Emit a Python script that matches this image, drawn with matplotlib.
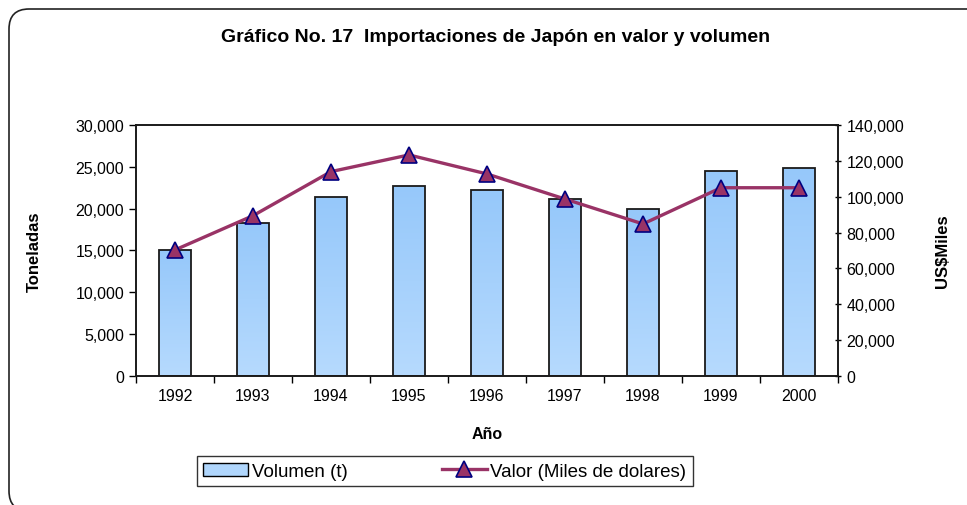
import numpy as np
import matplotlib
matplotlib.use('Agg')
import matplotlib.pyplot as plt
from matplotlib.patches import FancyBboxPatch, Rectangle
from matplotlib.colors import LinearSegmentedColormap
from matplotlib.ticker import FuncFormatter, MultipleLocator

plt.rcParams['font.family'] = ['Liberation Sans', 'DejaVu Sans']

years = ['1992', '1993', '1994', '1995', '1996', '1997', '1998', '1999', '2000']
volumen = [15100, 18300, 21350, 22750, 22200, 21150, 19900, 24550, 24900]
valor = [70300, 89400, 114000, 123300, 112700, 98700, 84800, 105000, 105000]

fig = plt.figure(figsize=(9.67, 5.06), dpi=100)
ax = fig.add_axes([0.1406, 0.255, 0.726, 0.496])
ax2 = ax.twinx()

# rounded outer border, runs past the right and bottom edges
fig.patches.append(FancyBboxPatch((0.09, -0.06), 9.8, 5.02,
                                  boxstyle='round,pad=0,rounding_size=0.2',
                                  transform=fig.dpi_scale_trans, fill=False,
                                  edgecolor='#222222', linewidth=1.2))

x = np.arange(len(years))
bar_w = 0.4
grad = LinearSegmentedColormap.from_list('g', ['#b6dafe', '#96c8fa'])
bars = ax.bar(x, volumen, width=bar_w, color='none', edgecolor='#1a1a1a',
              linewidth=1.3, zorder=3, label='Volumen (t)')
for b in bars:
    bx, by, bw, bh = b.get_x(), b.get_y(), b.get_width(), b.get_height()
    im = ax.imshow(np.linspace(0, 1, 100).reshape(-1, 1), cmap=grad,
                   extent=[bx, bx + bw, by, by + bh], aspect='auto',
                   origin='lower', zorder=2)
    im.set_clip_path(Rectangle((bx, by), bw, bh, transform=ax.transData))

fmt = FuncFormatter(lambda v, p: f'{int(v):,}')
ax.set_xlim(-0.5, len(years) - 0.5)
ax.set_ylim(0, 30000)
ax.yaxis.set_major_locator(MultipleLocator(5000))
ax.yaxis.set_major_formatter(fmt)
ax.set_xticks(x)
ax.set_xticklabels(years)
ax.set_xticks(np.arange(-0.5, len(years)), minor=True)
ax.tick_params(axis='x', which='major', length=0, labelsize=11.5, pad=9)
ax.tick_params(axis='x', which='minor', length=5, direction='out', width=1)
ax.tick_params(axis='y', length=5, direction='out', labelsize=11.5, width=1)
ax.set_xlabel('Año', fontsize=11.5, fontweight='bold')
ax.xaxis.set_label_coords(0.5, -0.198)
ax.set_ylabel('Toneladas', fontsize=12, fontweight='bold')
ax.yaxis.set_label_coords(-0.134, 0.5)

ax2.plot(x, valor, color='#993366', linewidth=2.4, marker='^',
         markersize=12, markerfacecolor='#993366', markeredgecolor='#000080',
         markeredgewidth=1.2, zorder=4, label='Valor (Miles de dolares)')
ax2.set_ylim(0, 140000)
ax2.yaxis.set_major_locator(MultipleLocator(20000))
ax2.yaxis.set_major_formatter(fmt)
ax2.tick_params(axis='y', length=5, direction='inout', labelsize=11.5, width=1)
ax2.set_ylabel('US$Miles', fontsize=12, fontweight='bold')
ax2.yaxis.set_label_coords(1.138, 0.5)

for a in (ax, ax2):
    for s in a.spines.values():
        s.set_linewidth(1.2)
        s.set_color('#1a1a1a')
ax.set_zorder(1)
ax2.set_zorder(2)
ax2.patch.set_visible(False)

fig.text(0.512, 0.925, 'Gráfico No. 17  Importaciones de Japón en valor y volumen',
         ha='center', va='center', fontsize=14, fontweight='bold')

h1 = Rectangle((0, 0), 1, 1, facecolor='#b0d6fc', edgecolor='black', linewidth=1)
h2, = ax2.get_lines()
leg = fig.legend([h1, h2], ['Volumen (t)', 'Valor (Miles de dolares)'],
                 loc='center', bbox_to_anchor=(0.46, 0.067), ncol=2,
                 fontsize=13.5, frameon=True, fancybox=False, edgecolor='black',
                 handlelength=2.4, columnspacing=5.0, borderpad=0.35,
                 handletextpad=0.2, borderaxespad=0)
leg.get_frame().set_linewidth(1.0)

fig.savefig('out.png', dpi=100)
